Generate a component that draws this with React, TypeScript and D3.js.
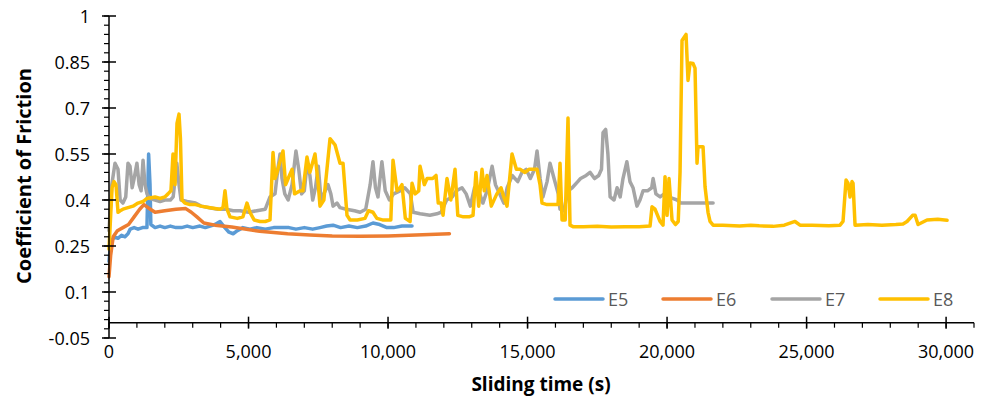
import React from "react";
import * as d3 from "d3";

const SERIES_NAMES = ["E5", "E6", "E7", "E8"];
const SERIES_COLORS = ["#5B9BD5", "#ED7D31", "#A5A5A5", "#FFC000"];

const X_TICKS = [0, 5000, 10000, 15000, 20000, 25000, 30000];
const Y_TICKS = [-0.05, 0.1, 0.25, 0.4, 0.55, 0.7, 0.85, 1];
const Y_TICK_LABELS = ["-0.05", "0.1", "0.25", "0.4", "0.55", "0.7", "0.85", "1"];

const E5: [number, number][] = [
  [0, 0.2], [40, 0.24], [110, 0.27], [200, 0.28], [320, 0.275], [450, 0.285], [573, 0.28], [680, 0.29],
  [760, 0.305], [900, 0.31], [1040, 0.305], [1200, 0.31], [1360, 0.31], [1420, 0.55], [1470, 0.45],
  [1500, 0.32], [1650, 0.31], [1830, 0.315], [2000, 0.31], [2200, 0.315], [2400, 0.31], [2600, 0.31],
  [2800, 0.315], [3000, 0.31], [3260, 0.315], [3450, 0.31], [3620, 0.315], [3800, 0.32], [3980, 0.33],
  [4150, 0.31], [4300, 0.295], [4450, 0.29], [4600, 0.3], [4800, 0.31], [5050, 0.305], [5300, 0.31],
  [5600, 0.305], [5900, 0.31], [6200, 0.31], [6450, 0.31], [6700, 0.305], [7000, 0.31], [7300, 0.305],
  [7560, 0.31], [7800, 0.315], [8030, 0.318], [8300, 0.31], [8600, 0.315], [8900, 0.31], [9200, 0.315],
  [9460, 0.325], [9700, 0.32], [9960, 0.31], [10200, 0.31], [10500, 0.315], [10860, 0.315],
];

const E6: [number, number][] = [
  [0, 0.15], [60, 0.22], [150, 0.28], [300, 0.3], [500, 0.31], [700, 0.32], [900, 0.345], [1100, 0.37],
  [1250, 0.385], [1400, 0.375], [1650, 0.36], [2000, 0.365], [2400, 0.37], [2750, 0.372], [2950, 0.36],
  [3150, 0.345], [3400, 0.325], [3800, 0.318], [4400, 0.312], [5400, 0.298], [6400, 0.29], [7200, 0.286],
  [8000, 0.283], [9000, 0.282], [10000, 0.283], [11000, 0.286], [12200, 0.29],
];

const E7: [number, number][] = [
  [0, 0.3], [100, 0.45], [215, 0.52], [323, 0.5], [400, 0.4], [500, 0.39], [600, 0.41], [681, 0.52],
  [753, 0.51], [830, 0.44], [900, 0.47], [1000, 0.52], [1080, 0.45], [1150, 0.43], [1220, 0.53],
  [1290, 0.45], [1362, 0.42], [1470, 0.405], [1650, 0.4], [1830, 0.395], [2000, 0.4], [2200, 0.4],
  [2300, 0.41], [2430, 0.52], [2510, 0.45], [2580, 0.4], [2800, 0.395], [3100, 0.39], [3300, 0.38],
  [3600, 0.375], [3900, 0.37], [4200, 0.37], [4450, 0.365], [4700, 0.365], [5000, 0.36], [5300, 0.365],
  [5600, 0.37], [5770, 0.41], [5950, 0.42], [6050, 0.5], [6130, 0.55], [6200, 0.47], [6300, 0.42],
  [6420, 0.4], [6560, 0.45], [6700, 0.56], [6800, 0.5], [6900, 0.42], [7000, 0.43], [7100, 0.52],
  [7200, 0.48], [7300, 0.4], [7400, 0.44], [7500, 0.51], [7600, 0.4], [7750, 0.43], [7850, 0.45],
  [7950, 0.42], [8030, 0.38], [8170, 0.39], [8280, 0.375], [8500, 0.37], [8800, 0.365], [9000, 0.36],
  [9200, 0.37], [9360, 0.45], [9460, 0.525], [9550, 0.44], [9640, 0.41], [9780, 0.525], [9900, 0.43],
  [10050, 0.4], [10200, 0.42], [10430, 0.43], [10600, 0.44], [10800, 0.42], [10900, 0.36], [11150, 0.355],
  [11500, 0.35], [11750, 0.355], [11900, 0.36], [12100, 0.4], [12300, 0.41], [12450, 0.43], [12650, 0.44],
  [12800, 0.42], [12950, 0.38], [13100, 0.44], [13250, 0.43], [13400, 0.39], [13550, 0.43], [13730, 0.51],
  [13850, 0.45], [14000, 0.42], [14150, 0.39], [14270, 0.44], [14450, 0.48], [14650, 0.46], [14800, 0.49],
  [14950, 0.5], [15100, 0.47], [15250, 0.5], [15340, 0.56], [15450, 0.47], [15550, 0.41], [15700, 0.46],
  [15805, 0.52], [15950, 0.47], [16100, 0.42], [16164, 0.37], [16300, 0.365], [16450, 0.43], [16600, 0.44],
  [16800, 0.46], [16900, 0.47], [17100, 0.48], [17240, 0.49], [17400, 0.47], [17550, 0.48], [17650, 0.5],
  [17705, 0.62], [17800, 0.63], [17880, 0.55], [17960, 0.41], [18100, 0.4], [18210, 0.44], [18320, 0.41],
  [18420, 0.47], [18560, 0.525], [18670, 0.46], [18780, 0.44], [18920, 0.38], [19030, 0.4], [19140, 0.43],
  [19300, 0.43], [19450, 0.44], [19500, 0.47], [19600, 0.42], [19750, 0.41], [19900, 0.42], [20050, 0.41],
  [20200, 0.405], [20360, 0.4], [20500, 0.39], [20800, 0.39], [21100, 0.39], [21400, 0.39], [21650, 0.39],
];

const E8: [number, number][] = [
  [0, 0.24], [60, 0.35], [110, 0.44], [180, 0.46], [250, 0.45], [323, 0.36], [400, 0.365], [500, 0.37],
  [680, 0.375], [860, 0.38], [1040, 0.39], [1220, 0.395], [1360, 0.405], [1650, 0.41], [1830, 0.405],
  [2000, 0.41], [2115, 0.42], [2220, 0.43], [2294, 0.55], [2365, 0.45], [2437, 0.65], [2509, 0.68],
  [2560, 0.6], [2616, 0.4], [2720, 0.39], [2900, 0.385], [3100, 0.385], [3300, 0.38], [3620, 0.375],
  [3980, 0.37], [4086, 0.375], [4157, 0.43], [4229, 0.37], [4337, 0.345], [4600, 0.34], [4800, 0.345],
  [4946, 0.39], [5050, 0.36], [5200, 0.335], [5412, 0.33], [5600, 0.33], [5770, 0.335], [5878, 0.555],
  [5950, 0.47], [6021, 0.49], [6236, 0.56], [6330, 0.45], [6420, 0.47], [6560, 0.5], [6650, 0.42],
  [6850, 0.43], [6950, 0.43], [7096, 0.54], [7200, 0.49], [7383, 0.55], [7500, 0.45], [7562, 0.38],
  [7700, 0.4], [7921, 0.6], [8100, 0.58], [8279, 0.52], [8387, 0.52], [8530, 0.35], [8640, 0.335],
  [8900, 0.335], [9175, 0.34], [9300, 0.365], [9460, 0.36], [9600, 0.34], [9800, 0.335], [10000, 0.335],
  [10100, 0.335], [10179, 0.53], [10322, 0.43], [10430, 0.44], [10500, 0.45], [10620, 0.34], [10790, 0.33],
  [10860, 0.455], [10970, 0.42], [11100, 0.43], [11146, 0.51], [11300, 0.45], [11400, 0.47], [11600, 0.47],
  [11720, 0.48], [11800, 0.39], [11900, 0.39], [11971, 0.35], [12114, 0.47], [12250, 0.4], [12401, 0.5],
  [12500, 0.35], [12700, 0.345], [12900, 0.345], [13046, 0.35], [13150, 0.49], [13250, 0.38], [13368, 0.5],
  [13450, 0.43], [13548, 0.48], [13700, 0.38], [13900, 0.42], [14050, 0.44], [14150, 0.41], [14264, 0.38],
  [14444, 0.55], [14600, 0.5], [14730, 0.5], [14909, 0.49], [15050, 0.5], [15200, 0.5], [15340, 0.5],
  [15447, 0.45], [15519, 0.39], [15700, 0.385], [15900, 0.385], [16092, 0.385], [16164, 0.52], [16236, 0.335],
  [16350, 0.335], [16450, 0.667], [16522, 0.318], [16630, 0.313], [17000, 0.313], [17500, 0.314],
  [18000, 0.312], [18500, 0.313], [19000, 0.313], [19390, 0.315], [19461, 0.378], [19568, 0.37],
  [19750, 0.33], [19855, 0.318], [19927, 0.476], [20000, 0.35], [20070, 0.47], [20178, 0.335], [20300, 0.32],
  [20400, 0.33], [20465, 0.49], [20536, 0.92], [20680, 0.94], [20751, 0.79], [20823, 0.847], [20930, 0.845],
  [21002, 0.83], [21074, 0.52], [21110, 0.574], [21289, 0.574], [21361, 0.443], [21468, 0.36], [21540, 0.33],
  [21650, 0.318], [22000, 0.318], [22600, 0.315], [23000, 0.318], [23300, 0.316], [23800, 0.314],
  [24200, 0.318], [24586, 0.33], [24765, 0.318], [25200, 0.318], [25800, 0.316], [26199, 0.318],
  [26306, 0.33], [26414, 0.465], [26486, 0.455], [26557, 0.41], [26629, 0.46], [26665, 0.455], [26737, 0.318],
  [27200, 0.32], [27700, 0.318], [28200, 0.32], [28457, 0.322], [28600, 0.33], [28800, 0.35], [28890, 0.35],
  [28995, 0.32], [29317, 0.335], [29700, 0.337], [30034, 0.334],
];

const SERIES_DATA = [E5, E6, E7, E8];

const W = 987;
const H = 403;
const FONT = "'Open Sans', sans-serif";

export default function App() {
  const x = d3.scaleLinear().domain([0, 31000]).range([109, 974]);
  const y = d3.scaleLinear().domain([-0.05, 1]).range([338, 16]);
  const line = d3
    .line<[number, number]>()
    .x((d) => x(d[0]))
    .y((d) => y(d[1]));

  const xMinor = d3.range(0, 31001, 1000);
  const yMinor = d3.range(0, 36).map((i) => -0.05 + i * 0.03);
  const y0 = y(0);

  const legendX = [555, 663, 772, 880];

  return (
    <div style={{ position: "absolute", left: 0, top: 0 }}>
      <svg width={W} height={H} style={{ display: "block", background: "#fff" }}>
        <rect x={0} y={0} width={W} height={H} fill="#fff" />
        {SERIES_DATA.map((data, i) => (
          <path
            key={SERIES_NAMES[i]}
            d={line(data) || ""}
            fill="none"
            stroke={SERIES_COLORS[i]}
            strokeWidth={3.5}
            strokeLinejoin="round"
            strokeLinecap="round"
          />
        ))}
        <line x1={x(0)} x2={x(0)} y1={y(1)} y2={y(-0.05)} stroke="#000" strokeWidth={1.5} />
        {yMinor.map((v, i) => (
          <line key={"ym" + i} x1={x(0) - 5} x2={x(0)} y1={y(v)} y2={y(v)} stroke="#000" strokeWidth={1.2} />
        ))}
        {Y_TICKS.map((v, i) => (
          <g key={"yt" + i}>
            <line x1={x(0) - 7} x2={x(0) + 7} y1={y(v)} y2={y(v)} stroke="#000" strokeWidth={1.5} />
            <text
              x={90}
              y={y(v)}
              textAnchor="end"
              dominantBaseline="central"
              fontFamily={FONT}
              fontSize={18}
              fill="#000"
            >
              {Y_TICK_LABELS[i]}
            </text>
          </g>
        ))}
        <line x1={x(0)} x2={x(31000)} y1={y0} y2={y0} stroke="#000" strokeWidth={1.5} />
        {xMinor.map((v, i) => (
          <line key={"xm" + i} x1={x(v)} x2={x(v)} y1={y0} y2={y0 + 5} stroke="#000" strokeWidth={1.2} />
        ))}
        {X_TICKS.map((v, i) => (
          <g key={"xt" + i}>
            <line x1={x(v)} x2={x(v)} y1={y0 - 6} y2={y0 + 6} stroke="#000" strokeWidth={1.5} />
            <text
              x={x(v)}
              y={351}
              textAnchor="middle"
              dominantBaseline="central"
              fontFamily={FONT}
              fontSize={18}
              fill="#000"
            >
              {d3.format(",")(v)}
            </text>
          </g>
        ))}
        <text
          x={541}
          y={384}
          textAnchor="middle"
          dominantBaseline="central"
          fontFamily={FONT}
          fontSize={19}
          fontWeight="bold"
          fill="#000"
        >
          Sliding time (s)
        </text>
        <text
          transform={`translate(23,176) rotate(-90)`}
          textAnchor="middle"
          dominantBaseline="central"
          fontFamily={FONT}
          fontSize={20}
          fontWeight="bold"
          fill="#000"
        >
          Coefficient of Friction
        </text>
        {SERIES_NAMES.map((name, i) => (
          <g key={"lg" + i}>
            <line
              x1={legendX[i]}
              x2={legendX[i] + 48}
              y1={299}
              y2={299}
              stroke={SERIES_COLORS[i]}
              strokeWidth={3.5}
              strokeLinecap="round"
            />
            <text
              x={legendX[i] + 53}
              y={299}
              dominantBaseline="central"
              fontFamily={FONT}
              fontSize={18}
              fill="#595959"
            >
              {name}
            </text>
          </g>
        ))}
      </svg>
    </div>
  );
}
